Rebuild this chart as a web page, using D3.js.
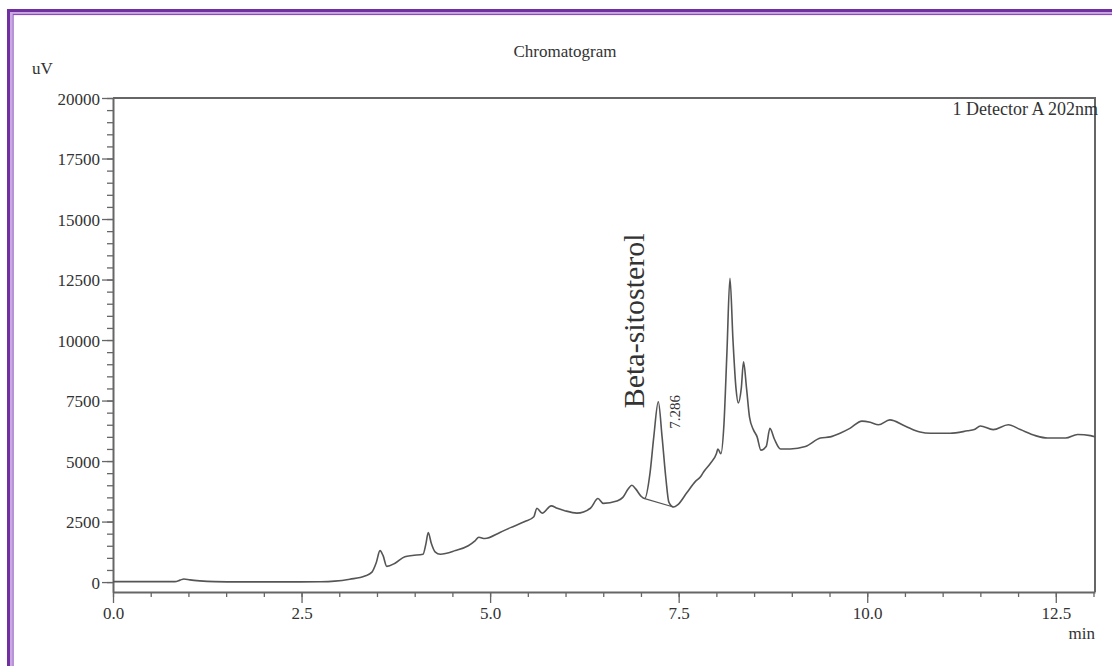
<!DOCTYPE html>
<html>
<head>
<meta charset="utf-8">
<script src="https://cdn.jsdelivr.net/npm/d3@7"></script>
<style>
  body { margin: 0; background: #fff; }
  svg text { font-family: "Liberation Serif", "Times New Roman", serif; fill: #333; }
</style>
</head>
<body>
<div id="chart"></div>
<script>
// retention time (min) and detector signal (uV)
var times = [0, 0.62, 0.82, 0.89, 0.94, 1.02, 1.15, 1.35, 1.68, 2.48, 2.75, 2.94, 3.14, 3.34, 3.43, 3.49,
  3.54, 3.58, 3.63, 3.74, 3.87, 3.97, 4.11, 4.15, 4.18, 4.22, 4.27, 4.34, 4.54, 4.71, 4.80, 4.85,
  4.93, 5.13, 5.27, 5.46, 5.58, 5.62, 5.69, 5.81, 5.89, 5.99, 6.15, 6.33, 6.43, 6.50, 6.68, 6.76,
  6.83, 6.88, 6.93, 7.00, 7.05, 7.12, 7.17, 7.23, 7.28, 7.33, 7.37, 7.43, 7.49, 7.61, 7.72, 7.79,
  7.83, 7.92, 8.00, 8.02, 8.06, 8.10, 8.14, 8.18, 8.22, 8.26, 8.29, 8.33, 8.36, 8.40, 8.44, 8.49,
  8.54, 8.59, 8.66, 8.71, 8.77, 8.85, 8.98, 9.18, 9.38, 9.51, 9.64, 9.77, 9.93, 10.04, 10.15, 10.30,
  10.50, 10.70, 10.84, 11.10, 11.33, 11.42, 11.50, 11.67, 11.87, 12.03, 12.23, 12.39, 12.63, 12.79,
  12.96, 13.02];
var signal = [20, 20, 20, 80, 130, 90, 50, 20, 10, 10, 15, 40, 120, 250, 400, 800,
  1300, 1100, 650, 780, 1050, 1100, 1150, 1600, 2050, 1600, 1250, 1150, 1300, 1500, 1700, 1850,
  1800, 2050, 2250, 2500, 2700, 3050, 2850, 3150, 3050, 2950, 2850, 3050, 3450, 3250, 3350, 3500,
  3850, 4000, 3850, 3550, 3450, 4500, 6000, 7450, 6000, 4300, 3300, 3100, 3200, 3700, 4150, 4350,
  4550, 4900, 5300, 5500, 5300, 6500, 9500, 12550, 10000, 8000, 7400, 8000, 9100, 8000, 6800, 6300,
  6000, 5450, 5600, 6350, 5900, 5500, 5500, 5600, 5950, 6000, 6150, 6350, 6650, 6600, 6500, 6700,
  6450, 6200, 6150, 6150, 6250, 6300, 6450, 6300, 6500, 6300, 6050, 5950, 5950, 6100,
  6050, 6000];

// integration baseline under the labelled peak
var baseTimes = [7.05, 7.43];
var baseValues = [3450, 3100];

var xTicks = [0, 2.5, 5, 7.5, 10, 12.5];
var yTicks = [0, 2500, 5000, 7500, 10000, 12500, 15000, 17500, 20000];
var peakName = "Beta-sitosterol";
var peakTime = "7.286";

var svgWidth = 1112, svgHeight = 666;
var margin = { top: 98, right: 17, bottom: 74, left: 113 };
var width = svgWidth - margin.left - margin.right;
var height = svgHeight - margin.top - margin.bottom;

var svg = d3.select("#chart").append("svg")
  .attr("width", svgWidth)
  .attr("height", svgHeight);

// purple double frame
svg.append("rect").attr("x", 8.5).attr("y", 10.5).attr("width", 1130).attr("height", 700)
  .attr("fill", "none").attr("stroke", "#7030a0").attr("stroke-width", 3);
svg.append("rect").attr("x", 11).attr("y", 13).attr("width", 1130).attr("height", 700)
  .attr("fill", "none").attr("stroke", "#c9a9e0").attr("stroke-width", 2);
svg.append("rect").attr("x", 13).attr("y", 14.5).attr("width", 1130).attr("height", 700)
  .attr("fill", "none").attr("stroke", "#8a4cc0").attr("stroke-width", 1.2);

var chartGroup = svg.append("g")
  .attr("transform", `translate(${margin.left}, ${margin.top})`);

var xScale = d3.scaleLinear().domain([0, 13.02]).range([0, width]);
var yScale = d3.scaleLinear().domain([-410, 20000]).range([height, 0]);

// minor ticks
var xMinor = d3.range(0, 13.01, 0.5);
var yMinor = d3.range(0, 20001, 500);

chartGroup.append("g")
  .attr("transform", `translate(0, ${height})`)
  .call(d3.axisBottom(xScale).tickValues(xMinor).tickSize(5).tickFormat("").tickSizeOuter(0))
  .call(g => g.select(".domain").remove());
chartGroup.append("g")
  .call(d3.axisLeft(yScale).tickValues(yMinor).tickSize(6).tickFormat("").tickSizeOuter(0))
  .call(g => g.select(".domain").remove());

var xAxis = chartGroup.append("g")
  .attr("transform", `translate(0, ${height})`)
  .call(d3.axisBottom(xScale).tickValues(xTicks).tickSize(11).tickPadding(4)
    .tickFormat(d3.format(".1f")).tickSizeOuter(0));
var yAxis = chartGroup.append("g")
  .call(d3.axisLeft(yScale).tickValues(yTicks).tickSize(11).tickPadding(2)
    .tickFormat(d => d).tickSizeOuter(0));

chartGroup.selectAll(".tick line").attr("stroke", "#666").attr("stroke-width", 1.3);
chartGroup.selectAll(".domain").attr("stroke", "#666").attr("stroke-width", 2);
xAxis.selectAll("text").style("font-size", "17px").attr("fill", "#333");
yAxis.selectAll("text").style("font-size", "17px").attr("fill", "#333").attr("dy", "0.36em");

// top and right sides of the plot box
chartGroup.append("path")
  .attr("d", `M0,0H${width}V${height}`)
  .attr("fill", "none").attr("stroke", "#666").attr("stroke-width", 2);

var points = times.map((t, i) => [t, signal[i]]);
var line = d3.line()
  .x(d => xScale(d[0]))
  .y(d => yScale(d[1]))
  .curve(d3.curveMonotoneX);

chartGroup.append("path")
  .datum(points)
  .attr("d", line)
  .attr("fill", "none")
  .attr("stroke", "#555")
  .attr("stroke-width", 1.6);

chartGroup.append("path")
  .datum(baseTimes.map((t, i) => [t, baseValues[i]]))
  .attr("d", d3.line().x(d => xScale(d[0])).y(d => yScale(d[1])))
  .attr("fill", "none")
  .attr("stroke", "#555")
  .attr("stroke-width", 1.2);

// titles and labels
svg.append("text").attr("x", 565).attr("y", 57).attr("text-anchor", "middle")
  .style("font-size", "17px").text("Chromatogram");
svg.append("text").attr("x", 32).attr("y", 74)
  .style("font-size", "17px").text("uV");
svg.append("text").attr("x", margin.left + width + 3).attr("y", 115).attr("text-anchor", "end")
  .style("font-size", "18px").text("1 Detector A 202nm");
svg.append("text").attr("x", margin.left + width).attr("y", 639).attr("text-anchor", "end")
  .style("font-size", "17px").text("min");

chartGroup.append("text")
  .attr("transform", `translate(${xScale(7.04)}, ${yScale(7180)}) rotate(-90)`)
  .style("font-size", "30px").attr("fill", "#000")
  .text(peakName);
chartGroup.append("text")
  .attr("transform", `translate(${xScale(7.52)}, ${yScale(6330)}) rotate(-90)`)
  .style("font-size", "15px").attr("fill", "#333")
  .text(peakTime);
</script>
</body>
</html>
